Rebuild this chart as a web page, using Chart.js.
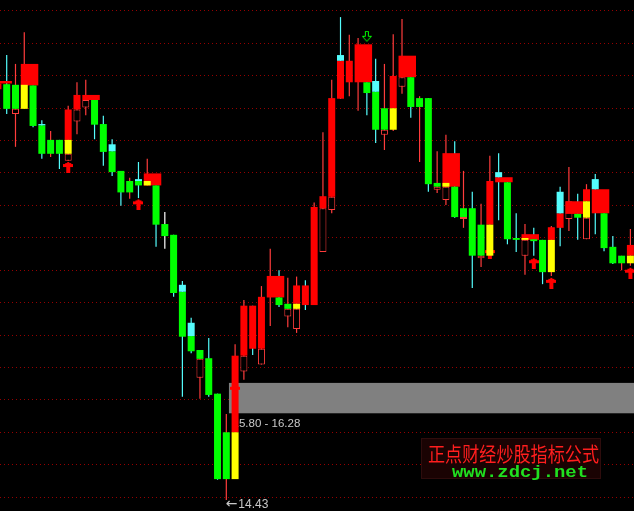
<!DOCTYPE html>
<html><head><meta charset="utf-8">
<script src="https://cdn.jsdelivr.net/npm/chart.js@4.4.1/dist/chart.umd.min.js"></script>
<style>html,body{margin:0;padding:0;background:#000;overflow:hidden}canvas{display:block}</style>
</head><body>
<canvas id="c" width="634" height="511"></canvas>
<script>
// ---- candle data (index -1 .. 71; array position k = candle index + 1) ----
const highs = [21.05,21.46,21.32,21.82,20.98,20.43,20.26,20.12,20.66,21.03,
  21.07,20.75,20.50,20.13,19.63,19.52,19.77,19.82,19.40,18.98,
  18.62,17.89,17.31,16.80,16.99,16.11,15.79,16.89,17.59,17.50,
  17.81,18.40,18.06,17.94,17.96,17.90,19.13,20.24,21.07,22.06,
  21.78,21.73,21.03,21.40,21.32,21.79,22.03,21.11,20.81,20.78,
  19.94,20.20,20.10,19.63,19.30,19.11,19.87,19.91,19.45,18.96,
  18.79,18.73,18.54,18.76,19.38,19.69,19.27,19.42,19.58,18.96,
  18.60,18.29,18.71];
const lows = [20.92,20.53,20.01,20.61,20.32,19.82,19.85,19.66,19.79,20.21,
  20.51,20.13,19.71,19.55,19.08,19.19,19.20,19.40,18.43,18.40,
  17.64,16.06,16.75,16.03,16.06,14.75,14.43,14.76,16.33,16.72,
  16.57,17.18,17.48,17.16,17.07,17.43,17.51,18.35,18.96,20.77,
  20.81,20.58,20.51,20.07,19.96,20.26,20.85,20.47,19.77,19.30,
  19.28,19.09,18.89,18.73,17.78,18.11,18.29,18.85,18.47,18.35,
  17.99,18.29,17.84,17.97,18.44,18.68,18.54,18.55,18.63,18.36,
  18.16,18.06,18.13];
const wickColor = "RCRRCCRCRRRCCCCRCRCWCCCRCCRRRCRRCRRCRRRCRRCCRRRCRCRRCRCRRCCCRCCRCRCRCCCRR".split('');
const bodyTop = [21.01,21.00,20.99,null,20.98,20.35,20.12,20.12,20.60,20.83,
  null,20.75,20.37,19.94,19.63,19.47,19.47,null,19.40,18.79,
  18.62,17.72,17.02,16.80,16.67,16.11,15.50,16.71,17.50,17.50,
  17.64,null,17.63,17.53,17.82,17.82,19.06,19.23,20.78,21.37,
  21.37,null,21.03,20.88,20.62,21.13,null,21.11,20.78,20.78,
  19.44,null,19.38,19.04,19.04,18.78,19.47,null,19.45,18.57,
  null,18.55,18.54,18.74,18.96,null,18.95,19.34,null,18.96,
  18.43,18.29,18.46];
const bodyBot = [20.92,20.61,20.61,null,20.34,19.90,19.90,19.90,20.12,20.60,
  null,20.36,19.93,19.61,19.29,19.29,19.40,null,18.78,18.60,
  17.70,17.01,16.78,16.66,16.09,14.76,14.76,15.50,16.71,16.82,
  16.82,null,17.51,17.45,17.53,17.51,17.51,19.04,19.22,20.77,
  21.03,null,20.86,20.28,20.28,20.62,null,20.64,20.64,19.42,
  19.38,null,18.90,18.90,18.29,18.29,18.78,null,18.55,18.54,
  null,18.52,18.03,18.54,18.73,null,18.89,19.15,null,18.41,
  18.17,18.17,18.29];
const bodyColor = ['R','G','G',null,'G','G','G','G','R','R',
  null,'G','G','G','G','G','G',null,'G','G',
  'G','G','G','G','G','G','G','R','R','R',
  'R',null,'G','G','R','R','R','R','R','R',
  'R',null,'G','G','G','R',null,'G','G','G',
  'G',null,'G','G','G','G','R',null,'G','G',
  null,'G','G','R','R',null,'G','R',null,'G',
  'G','G','R'];
// second coloured segment (yellow / cyan) by candle index
const accentAt    = [2,4,7,12,15,16,20,21,26,33,38,42,44,50,55,56,59,62,63,66,67,71];
const accentTop   = [20.99,20.37,20.12,20.05,19.50,19.47,17.83,17.23,15.50,17.53,21.46,21.05,20.62,19.44,18.78,19.61,18.57,18.54,19.30,19.15,19.50,18.29];
const accentBot   = [20.61,20.35,19.90,19.94,19.47,19.40,17.72,17.02,14.76,17.45,21.37,20.88,20.28,19.38,18.29,19.53,18.54,18.03,18.96,18.89,19.34,18.17];
const accentColor = ['Y','C','Y','C','C','Y','C','C','Y','Y','C','C','Y','Y','Y','C','Y','Y','C','Y','C','Y'];
// hollow (outlined) bodies by candle index
const hollowAt  = [1,7,8,9,22,27,29,32,33,36,37,43,45,49,50,52,54,59,64,66];
const hollowTop = [20.61,19.90,20.60,20.75,16.66,16.71,16.82,17.45,17.45,19.04,19.22,20.28,21.11,19.38,19.38,18.90,18.29,18.54,19.15,18.89];
const hollowBot = [20.53,19.79,20.41,20.63,16.36,16.46,16.57,17.33,17.13,18.35,19.01,20.20,20.96,19.33,19.17,18.87,18.25,18.29,18.87,18.55];
// wide red blocks (start at candle index, span two candles)
const boxAt  = [-1,2,9,16,30,40,45,50,56,59,64,67];
const boxTop = [21.05,21.32,20.83,19.59,17.97,21.63,21.45,19.91,19.53,18.63,19.15,19.34];
const boxBot = [21.01,20.98,20.75,19.40,17.63,21.03,21.11,19.38,19.45,18.54,18.95,18.96];
// signal arrows
const upArrowAt = [7,15,26,55,60,62,71];
const upArrowTip = [19.77,19.18,16.25,18.41,18.25,17.94,18.10];
const downArrowAt = [41];
const downArrowTip = [21.67];
// price band and horizontal grid levels
const bandRange = [15.80, 16.28];
const bandStart = 25.3;
const gridLevels = [22.16,21.64,21.13,20.62,20.11,19.60,19.08,18.57,18.06,17.55,17.03,16.52,16.01,15.50,14.99,14.47];

// ---- styling ----
const FILL = {R:'#ff0000', G:'#00ff00', Y:'#ffff00', C:'#54fcfc', W:'#ffffff'};
const WICK = {R:'#ff3c3c', C:'#54fcfc', W:'#ffffff'};
const idx = highs.map((_, k) => k - 1);

function upArrow(color){
  const c = document.createElement('canvas'); c.width = 10; c.height = 22;
  const g = c.getContext('2d'); g.fillStyle = color;
  g.fillRect(4,11,2,1); g.fillRect(2,12,6,1); g.fillRect(0,13,10,3); g.fillRect(3,16,4,6);
  return c;
}
function downArrow(color){
  const c = document.createElement('canvas'); c.width = 10; c.height = 22;
  const g = c.getContext('2d'); g.strokeStyle = color; g.lineWidth = 1;
  g.beginPath(); g.moveTo(3.5,0.5); g.lineTo(6.5,0.5); g.lineTo(6.5,5.5); g.lineTo(9.5,5.5);
  g.lineTo(5,10.5); g.lineTo(0.5,5.5); g.lineTo(3.5,5.5); g.closePath(); g.stroke();
  return c;
}

const wickData = idx.map((x,k) => ({x, y:[lows[k], highs[k]]}));
const wickCols = wickColor.map(c => WICK[c]);
const bodyData = [], bodyCols = [];
idx.forEach((x,k) => { if (bodyTop[k] != null) { bodyData.push({x, y:[bodyBot[k], bodyTop[k]]}); bodyCols.push(FILL[bodyColor[k]]); } });
const accentData = accentAt.map((x,i) => ({x, y:[accentBot[i], accentTop[i]]}));
const accentCols = accentColor.map(c => FILL[c]);
const hollowData = hollowAt.map((x,i) => ({x, y:[hollowBot[i], hollowTop[i]]}));
const boxData = boxAt.map((x,i) => ({x: x + 0.6, y:[boxBot[i], boxTop[i]]}));
const upData = upArrowAt.map((x,i) => ({x, y: upArrowTip[i]}));
const downData = downArrowAt.map((x,i) => ({x, y: downArrowTip[i]}));

const barBase = {type:'bar', grouped:false, borderSkipped:false, inflateAmount:0, borderWidth:0};

const bandPlugin = {
  id:'band',
  beforeDatasetsDraw(chart){
    const {ctx, scales:{x, y}, chartArea} = chart;
    const top = y.getPixelForValue(bandRange[1]), bot = y.getPixelForValue(bandRange[0]);
    const left = x.getPixelForValue(bandStart);
    ctx.save();
    ctx.fillStyle = '#808080';
    ctx.fillRect(left, top, chartArea.right - left, bot - top);
    ctx.font = '11.5px "Liberation Sans", Arial, sans-serif';
    ctx.fillStyle = '#c8c8c8';
    ctx.textBaseline = 'alphabetic';
    ctx.fillText(bandRange[0].toFixed(2) + ' - ' + bandRange[1].toFixed(2), left + 3.6, bot + 14);
    ctx.restore();
  },
  afterDatasetsDraw(chart){
    const {ctx, scales:{x, y}} = chart;
    let m = 0; lows.forEach((v,k) => { if (v < lows[m]) m = k; });
    const px = x.getPixelForValue(idx[m]) - 0.5, py = y.getPixelForValue(lows[m]) + 8;
    ctx.save();
    ctx.fillStyle = '#c8c8c8';
    ctx.textBaseline = 'alphabetic';
    ctx.font = '14px "DejaVu Sans", sans-serif';
    ctx.fillText('\u2190', px, py);
    ctx.font = '12px "Liberation Sans", Arial, sans-serif';
    ctx.fillText(lows[m].toFixed(2), px + 12.5, py);
    ctx.restore();
  },
  afterDraw(chart){
    const c = chart.ctx;
    c.save();
    c.fillStyle = '#1a0303'; c.fillRect(421, 438, 180, 41);
    c.strokeStyle = '#2e0c0c'; c.lineWidth = 1; c.strokeRect(421.5, 438.5, 179, 40);
    const t1 = '正点财经炒股指标公式';
    c.font = '17px "Noto Sans CJK SC", sans-serif';
    c.fillStyle = '#ff1e1e'; c.textBaseline = 'middle';
    let w = c.measureText(t1).width;
    c.save(); c.translate(428, 454.5); c.scale(171 / w, 1.2); c.fillText(t1, 0, 0); c.restore();
    const t2 = 'www.zdcj.net';
    c.font = 'bold 17px "Liberation Mono", "DejaVu Sans Mono", monospace';
    c.fillStyle = '#20e020'; c.textBaseline = 'alphabetic';
    w = c.measureText(t2).width;
    c.save(); c.translate(452, 477); c.scale(136 / w, 1); c.fillText(t2, 0, 0); c.restore();
    c.restore();
  }
};

new Chart(document.getElementById('c'), {
  type: 'bar',
  data: { datasets: [
    {type:'line', data: downData, showLine:false, pointStyle: downArrow('#00ff00'), pointRadius:5, order:0, clip:false},
    {...barBase, data: accentData, backgroundColor: accentCols, barThickness:7, order:1},
    {...barBase, data: bodyData, backgroundColor: bodyCols, barThickness:7, order:2},
    {...barBase, data: boxData, backgroundColor:'#ff0000', barThickness:17.5, order:3},
    {...barBase, data: hollowData, backgroundColor:'#000000', borderColor:'#ff3c3c', borderWidth:1, barThickness:7, order:4},
    {type:'line', data: upData, showLine:false, pointStyle: upArrow('#ff0000'), pointRadius:5, order:5, clip:false},
    {...barBase, data: wickData, backgroundColor: wickCols, barThickness:1.2, order:6}
  ]},
  options: {
    responsive:false, animation:false, events:[], devicePixelRatio:1,
    layout:{padding:0, autoPadding:false},
    plugins:{legend:{display:false}, tooltip:{enabled:false}},
    scales:{
      x:{type:'linear', min:-0.763, max:71.41, offset:false, display:false},
      y:{min:14.256, max:22.33, display:true,
         ticks:{display:false},
         grid:{color:'#960000', drawTicks:false, lineWidth:1},
         border:{display:false, dash:[1,3]},
         afterBuildTicks: s => { s.ticks = gridLevels.map(v => ({value:v})); }
      }
    }
  },
  plugins:[bandPlugin]
});
</script>
</body></html>
